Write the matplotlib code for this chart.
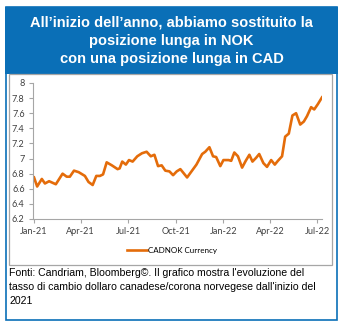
import matplotlib
matplotlib.use("Agg")
import matplotlib.pyplot as plt
from matplotlib.patches import Rectangle
import pandas as pd

# CAD/NOK exchange rate, early 2021 to mid 2022
dates = [
    "2021-01-01", "2021-01-07", "2021-01-16", "2021-01-22", "2021-01-30",
    "2021-02-12", "2021-02-25", "2021-03-05", "2021-03-11", "2021-03-19",
    "2021-03-28", "2021-04-09", "2021-04-16", "2021-04-24", "2021-05-01",
    "2021-05-08", "2021-05-14", "2021-05-21", "2021-05-31", "2021-06-11",
    "2021-06-15", "2021-06-20", "2021-06-27", "2021-07-03", "2021-07-10",
    "2021-07-19", "2021-07-28", "2021-08-06", "2021-08-14", "2021-08-21",
    "2021-08-28", "2021-09-04", "2021-09-11", "2021-09-19", "2021-09-26",
    "2021-10-03", "2021-10-10", "2021-10-23", "2021-11-10", "2021-11-21",
    "2021-11-27", "2021-12-05", "2021-12-12", "2021-12-18", "2021-12-26",
    "2022-01-01", "2022-01-11", "2022-01-16", "2022-01-22", "2022-01-29",
    "2022-02-06", "2022-02-13", "2022-02-20", "2022-02-26", "2022-03-05",
    "2022-03-11", "2022-03-19", "2022-03-26", "2022-04-03", "2022-04-10",
    "2022-04-16", "2022-04-24", "2022-04-30", "2022-05-07", "2022-05-14",
    "2022-05-21", "2022-05-29", "2022-06-05", "2022-06-11", "2022-06-19",
    "2022-06-25", "2022-07-02", "2022-07-10",
]
cadnok = [
    6.75, 6.63, 6.73, 6.67, 6.70,
    6.66, 6.80, 6.76, 6.76, 6.84,
    6.82, 6.77, 6.69, 6.65, 6.77,
    6.77, 6.79, 6.95, 6.91, 6.86,
    6.87, 6.96, 6.92, 6.98, 6.96,
    7.03, 7.07, 7.09, 7.03, 7.05,
    6.90, 6.91, 6.84, 6.83, 6.78,
    6.83, 6.86, 6.75, 6.92, 7.06,
    7.09, 7.15, 7.03, 7.02, 6.90,
    6.98, 6.98, 6.97, 7.08, 7.03,
    6.88, 6.97, 7.05, 6.96, 7.01,
    7.06, 6.94, 6.89, 6.98, 6.92,
    6.97, 7.03, 7.29, 7.33, 7.57,
    7.60, 7.45, 7.49, 7.56, 7.68,
    7.65, 7.72, 7.81,
]
tick_dates = ["2021-01-01", "2021-04-01", "2021-07-01", "2021-10-01",
              "2022-01-01", "2022-04-01", "2022-07-01"]
tick_labels = ["Jan-21", "Apr-21", "Jul-21", "Oct-21", "Jan-22", "Apr-22", "Jul-22"]
y_ticks = [6.2, 6.4, 6.6, 6.8, 7.0, 7.2, 7.4, 7.6, 7.8, 8.0]
series_name = "CADNOK Currency"

title = ("All\u2019inizio dell\u2019anno, abbiamo sostituito la\n"
         "posizione lunga in NOK\n"
         "con una posizione lunga in CAD")
footer = ("Fonti: Candriam, Bloomberg\u00a9. Il grafico mostra l'evoluzione del\n"
          "tasso di cambio dollaro canadese/corona norvegese dall'inizio del\n"
          "2021")

W, H = 344, 325
BLUE = "#0A6FB7"
ORANGE = "#E46C0A"

fig = plt.figure(figsize=(W / 100, H / 100), dpi=100)
fig.patch.set_facecolor("white")


def fx(px):
    return px / W


def fy(py):
    return 1 - py / H


# outer blue frame and title band
fig.add_artist(Rectangle((fx(5.5), fy(319.5)), fx(331), (319.5 - 7) / H,
                         transform=fig.transFigure, facecolor="none",
                         edgecolor=BLUE, linewidth=1.2))
fig.add_artist(Rectangle((fx(5), fy(74)), fx(333), (74 - 7) / H,
                         transform=fig.transFigure, facecolor=BLUE,
                         edgecolor="none"))
# grey chart box
fig.add_artist(Rectangle((fx(8.5), fy(265)), fx(323), (265 - 74) / H,
                         transform=fig.transFigure, facecolor="none",
                         edgecolor="#A6A6A6", linewidth=0.9))

fig.text(fx(171.5), fy(40.5), title, ha="center", va="center", color="white",
         fontsize=10.5, fontweight="bold", family="Liberation Sans",
         linespacing=1.38)
fig.text(fx(9), fy(267.5), footer, ha="left", va="top", color="black",
         fontsize=7.55, family="Liberation Sans", linespacing=1.5)

ax = fig.add_axes([fx(33), fy(219), fx(322 - 33), (219 - 83) / H])
x = pd.to_datetime(dates)
ax.plot(x, cadnok, color=ORANGE, linewidth=1.9, solid_joinstyle="round",
        label=series_name)

ax.set_ylim(6.2, 8.0)
ax.set_yticks(y_ticks)
ax.set_yticklabels([f"{v:g}" for v in y_ticks])
ax.set_xlim(pd.Timestamp("2020-12-30"), pd.Timestamp("2022-07-10"))
ax.set_xticks(pd.to_datetime(tick_dates))
ax.set_xticklabels(tick_labels)

for side in ("top", "right"):
    ax.spines[side].set_visible(False)
for side in ("left", "bottom"):
    ax.spines[side].set_color("#A6A6A6")
    ax.spines[side].set_linewidth(0.8)
ax.tick_params(axis="both", colors="#A6A6A6", length=3, width=0.8,
               labelcolor="#404040", labelsize=6.6, pad=3)
for lab in ax.get_xticklabels() + ax.get_yticklabels():
    lab.set_family("Lato")

leg = ax.legend(loc="upper center",
                bbox_to_anchor=((172 - 33) / (322 - 33), -0.15),
                frameon=False, handlelength=2.5, handletextpad=0.15,
                prop={"family": "Lato", "size": 5.8})

fig.savefig("out.png", dpi=100, facecolor="white")
